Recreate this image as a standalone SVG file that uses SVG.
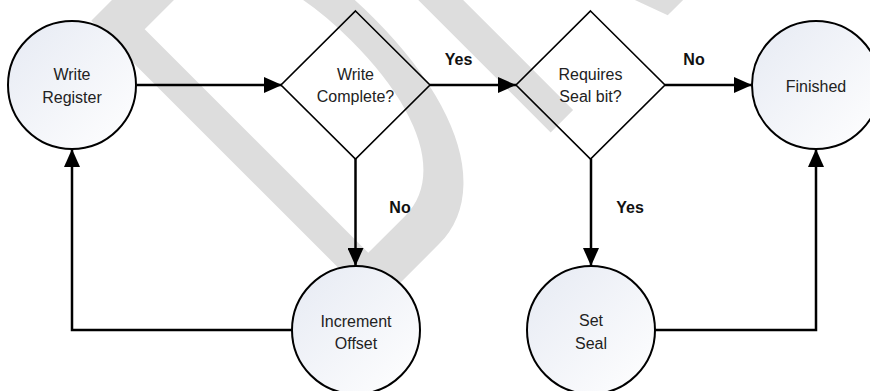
<svg xmlns="http://www.w3.org/2000/svg" width="870" height="391" viewBox="0 0 870 391">
  <defs>
    <linearGradient id="bubble" x1="0" y1="0" x2="1" y2="1">
      <stop offset="0" stop-color="#e6eaf3"/>
      <stop offset="1" stop-color="#ffffff"/>
    </linearGradient>
    <marker id="arrow" viewBox="0 0 18 16" refX="18" refY="8" markerWidth="18" markerHeight="16" markerUnits="userSpaceOnUse" orient="auto">
      <path d="M0,0 L18,8 L0,16 Z" fill="#000"/>
    </marker>
    <style>
      .state { fill: url(#bubble); stroke: #000; stroke-width: 2; }
      .decision { fill: none; stroke: #000; stroke-width: 1.6; }
      .label { font-family: "Liberation Sans", Arial, sans-serif; font-size: 16px; fill: #222; text-anchor: middle; }
      .edge { fill: none; stroke: #000; stroke-width: 2.5; }
      .edge-label { font-family: "Liberation Sans", Arial, sans-serif; font-size: 16px; font-weight: bold; fill: #111; text-anchor: middle; }
      .watermark { font-family: "Liberation Sans", Arial, sans-serif; font-size: 587px; fill: #dddddd; }
    </style>
  </defs>

  <rect width="870" height="391" fill="#ffffff"/>

  <!-- diagonal background watermark, mostly running off the top edge -->
  <g id="watermark">
    <text class="watermark" transform="translate(365,270) rotate(-45) scale(0.58,1)" x="-78" y="34">DR</text>
  </g>

  <!-- connectors -->
  <g id="connectors">
    <path class="edge" d="M137,85 H282" marker-end="url(#arrow)"/>
    <path class="edge" d="M430,85 H516" marker-end="url(#arrow)"/>
    <path class="edge" d="M665,85 H752" marker-end="url(#arrow)"/>
    <path class="edge" d="M355.5,159 V266" marker-end="url(#arrow)"/>
    <path class="edge" d="M591,159 V266" marker-end="url(#arrow)"/>
    <path class="edge" d="M292,330 H72 V149" marker-end="url(#arrow)"/>
    <path class="edge" d="M655,330 H816 V149" marker-end="url(#arrow)"/>
    <text class="edge-label" x="458.5" y="65">Yes</text>
    <text class="edge-label" x="694" y="65">No</text>
    <text class="edge-label" x="400" y="213">No</text>
    <text class="edge-label" x="630" y="213">Yes</text>
  </g>

  <!-- nodes -->
  <g id="write-register">
    <circle class="state" cx="72" cy="85" r="64"/>
    <text class="label" x="72" y="80">Write</text>
    <text class="label" x="72" y="102.5">Register</text>
  </g>
  <g id="write-complete">
    <polygon class="decision" points="355.5,11 430,85 355.5,159 281,85"/>
    <text class="label" x="355.5" y="80">Write</text>
    <text class="label" x="355.5" y="102">Complete?</text>
  </g>
  <g id="requires-seal">
    <polygon class="decision" points="590.5,11 665,85 590.5,159 516,85"/>
    <text class="label" x="590.5" y="80">Requires</text>
    <text class="label" x="590.5" y="102">Seal bit?</text>
  </g>
  <g id="finished">
    <circle class="state" cx="816" cy="85" r="64"/>
    <text class="label" x="816" y="91.5">Finished</text>
  </g>
  <g id="increment-offset">
    <circle class="state" cx="356" cy="330" r="64"/>
    <text class="label" x="356" y="326.5">Increment</text>
    <text class="label" x="356" y="348.5">Offset</text>
  </g>
  <g id="set-seal">
    <circle class="state" cx="591" cy="330" r="64"/>
    <text class="label" x="591" y="326">Set</text>
    <text class="label" x="591" y="348.5">Seal</text>
  </g>
</svg>
